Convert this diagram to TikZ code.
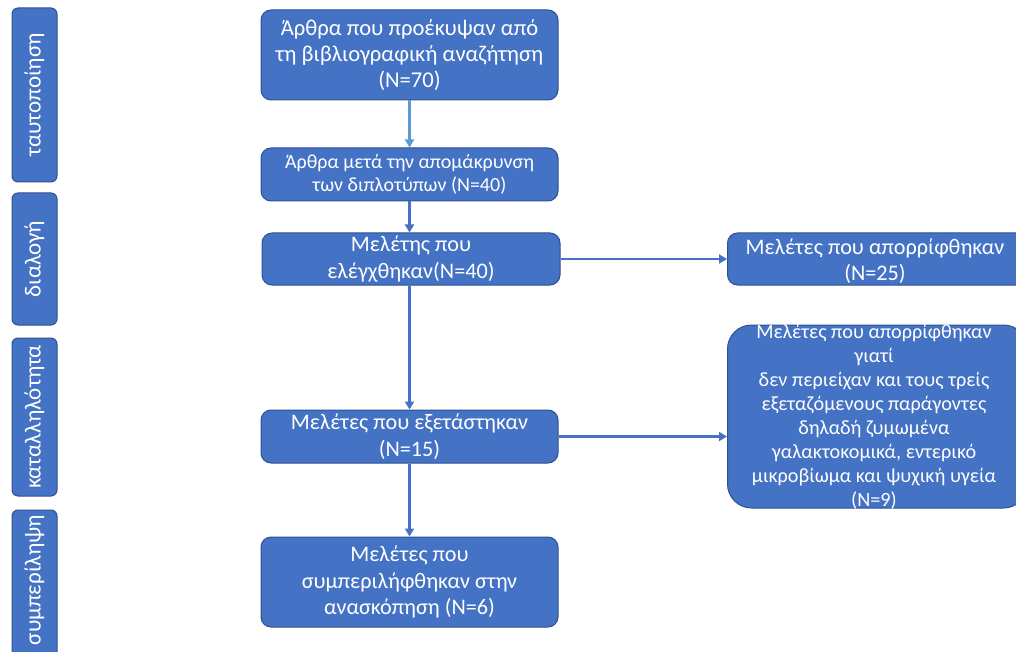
\documentclass[tikz,border=0pt]{standalone}
\usepackage{fontspec}
\setmainfont{Carlito}
\usetikzlibrary{arrows.meta}
\definecolor{boxfill}{HTML}{4472C4}
\definecolor{boxline}{HTML}{2F528F}
\definecolor{arrowlight}{HTML}{5B9BD5}
\begin{document}
\begin{tikzpicture}[x=1pt,y=-1pt,
  box/.style={draw=boxline, line width=1pt, fill=boxfill, rounded corners=10pt, text=white, align=center, inner sep=0pt},
  sidebox/.style={box, rounded corners=6pt, minimum width=45pt},
  sidetext/.style={text=white, rotate=90, font=\fontsize{23}{26}\selectfont},
  big/.style={font=\fontsize{22.6}{26}\selectfont},
  mid/.style={font=\fontsize{22.2}{26.5}\selectfont},
  small/.style={font=\fontsize{20}{23}\selectfont},
  note/.style={font=\fontsize{20.2}{24}\selectfont},
  conn/.style={draw=boxfill, line width=2.6pt, -{Triangle[length=8pt,width=9pt]}},
  connlight/.style={conn, draw=arrowlight}]
\useasboundingbox (0,0) rectangle (1016,652);
\begin{scope}
\clip (0,0) rectangle (1016,652);
% side boxes
\node[sidebox, minimum height=174pt] (s1) at (34.5,95) {};
\node[sidetext] (t1) at (s1.center) {ταυτοποίηση};
\node[sidebox, minimum height=132pt] (s2) at (34.5,259) {};
\node[sidetext] (t2) at (s2.center) {διαλογή};
\node[sidebox, minimum height=158pt] (s3) at (34.5,417) {};
\node[sidetext] (t3) at (s3.center) {καταλληλότητα};
\node[sidebox, minimum height=150pt] (s4) at (34.5,585) {};
\node[sidetext] (t4) at (34.5,580) {συμπερίληψη};
% main boxes
\node[box, big, minimum width=297pt, minimum height=90pt] (b1) at (409.5,55)
  {Άρθρα που προέκυψαν από\\τη βιβλιογραφική αναζήτηση\\(N=70)};
\node[box, small, minimum width=297pt, minimum height=53pt] (b2) at (409.5,174.5)
  {Άρθρα μετά την απομάκρυνση\\των διπλοτύπων (N=40)};
\node[box, mid, minimum width=298pt, minimum height=52pt] (b3) at (411,259)
  {Μελέτης που\\ελέγχθηκαν(N=40)};
\node[box, mid, minimum width=297pt, minimum height=53pt] (b4) at (409.5,436.5)
  {Μελέτες που εξετάστηκαν\\(N=15)};
\node[box, mid, minimum width=297pt, minimum height=90pt] (b5) at (409.5,582)
  {Μελέτες που\\συμπεριλήφθηκαν στην\\ανασκόπηση (N=6)};
% right boxes
\node[box, minimum width=300pt, minimum height=52pt, anchor=west] (r1) at (727,259)
  {};
\node[text=white, mid, align=center] (r1t) at (875,261) {Μελέτες που απορρίφθηκαν\\(N=25)};
\node[box, rounded corners=24pt, minimum width=300pt, minimum height=183pt, anchor=west] (r2) at (727,416.5)
  {};
\node[text=white, note, align=center] (r2t) at (874,417)
  {Μελέτες που απορρίφθηκαν\\γιατί\\δεν περιείχαν και τους τρείς\\εξεταζόμενους παράγοντες\\δηλαδή ζυμωμένα\\γαλακτοκομικά, εντερικό\\μικροβίωμα και ψυχική υγεία\\(N=9)};
\end{scope}
% connectors
\draw[connlight] (b1.south -| b2.north) -- (b2.north);
\draw[conn] (b2.south) -- (b2.south |- b3.north);
\draw[conn] (b3.south -| b4.north) -- (b4.north);
\draw[conn] (b4.south) -- (b5.north);
\draw[conn] (b3.east) -- (r1.west);
\draw[conn] (b4.east) -- (r2.west |- b4.east);
\end{tikzpicture}
\end{document}
